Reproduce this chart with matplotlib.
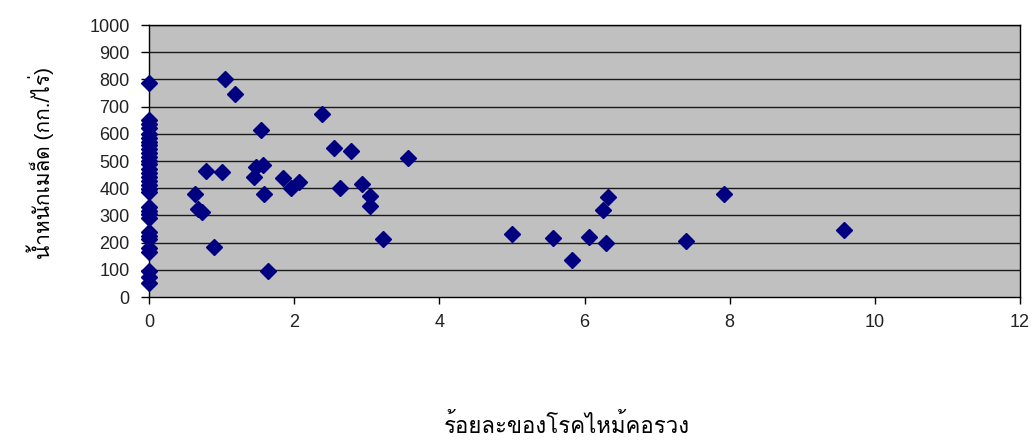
import matplotlib
matplotlib.use("Agg")
import matplotlib.pyplot as plt
from matplotlib import font_manager
from matplotlib.ft2font import FT2Font

# percent of neck blast disease (x) vs seed weight kg/rai (y)
blast_zero = [0] * 30
weight_zero = [788, 650, 635, 620, 600, 585, 570, 558, 545, 530, 515, 500,
               488, 470, 455, 440, 425, 410, 398, 385, 330, 318, 305, 290,
               238, 225, 212, 180, 165, 95]
blast_other = [0, 0, 1.05, 1.18, 0.64, 0.67, 0.73, 0.79, 1.00, 0.89, 1.54, 1.45,
               1.48, 1.57, 1.59, 1.64, 1.84, 1.96, 2.07, 2.39, 2.55, 2.78,
               2.63, 2.94, 3.04, 3.04, 3.22, 3.57, 5.00, 5.56, 5.83, 6.06,
               6.25, 6.33, 6.30, 7.40, 7.92, 9.57]
weight_other = [75, 50, 800, 745, 380, 322, 312, 464, 458, 185, 614, 442,
                478, 485, 379, 94, 437, 401, 424, 673, 547, 536,
                402, 415, 371, 335, 213, 512, 230, 218, 136, 222,
                319, 367, 200, 206, 379, 246]

x_ticks = [0, 2, 4, 6, 8, 10, 12]
y_ticks = list(range(0, 1001, 100))

x_title = "ร้อยละของโรคไหม้คอรวง"
y_title = "น้ำหนักเมล็ด (กก./ไร่)"


def find_thai_font():
    for f in font_manager.fontManager.ttflist:
        try:
            cmap = FT2Font(f.fname).get_charmap()
        except Exception:
            continue
        if 0x0E01 in cmap and 0x0E49 in cmap:
            return f.name
    return None


thai = find_thai_font()
families = ["Liberation Sans", "DejaVu Sans"]
if thai:
    families = ["Liberation Sans", thai, "DejaVu Sans"]
plt.rcParams["font.family"] = families

xs = blast_zero + blast_other
ys = weight_zero + weight_other

fig = plt.figure(figsize=(10.32, 4.41), dpi=100)
ax = fig.add_axes([0.1444, 0.3265, 0.844, 0.6168])
ax.set_facecolor("#C0C0C0")

for y in y_ticks[1:]:
    ax.axhline(y, color="#1a1a1a", lw=1, zorder=1)

ax.plot(xs, ys, linestyle="none", marker="D", ms=8, color="#000080",
        zorder=3, clip_on=False)

ax.set_xlim(0, 12)
ax.set_ylim(0, 1000)
ax.set_xticks(x_ticks)
ax.set_yticks(y_ticks)
ax.tick_params(axis="both", direction="out", width=1, labelsize=13,
               labelcolor="#222222")
ax.tick_params(axis="x", length=5, pad=7)
ax.tick_params(axis="y", length=6, pad=8)
for s in ax.spines.values():
    s.set_color("black")
    s.set_linewidth(1)

fig.text(0.549, 0.018, x_title, ha="center", va="baseline", fontsize=16)
fig.text(0.039, 0.63, y_title, ha="center", va="center", rotation=90,
         fontsize=15)

fig.savefig("out.png", dpi=100)
